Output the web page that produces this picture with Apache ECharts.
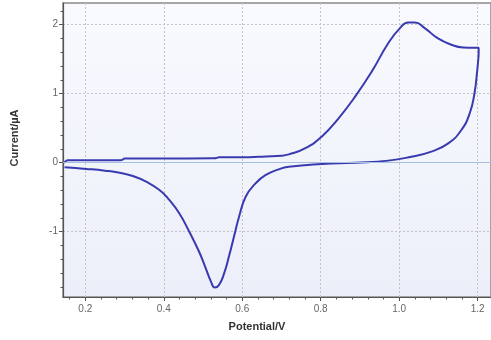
<!DOCTYPE html>
<html>
<head>
<meta charset="utf-8">
<script src="https://cdn.jsdelivr.net/npm/echarts@6/dist/echarts.min.js"></script>
<style>html,body{margin:0;padding:0;background:#fff}#c{width:491px;height:340px}</style>
</head>
<body>
<div id="c"></div>
<script>
// Potential (V) and current (µA)
const forwardV = [0.145, 0.150, 0.155, 0.20, 0.29, 0.295, 0.30, 0.40, 0.53, 0.535, 0.54, 0.617, 0.66, 0.70, 0.7185, 0.761, 0.803, 0.845, 0.888, 0.93, 0.972, 1.002, 1.023, 1.04, 1.065, 1.099, 1.133, 1.163, 1.19, 1.2025];
const forwardI = [0.0, 0.02, 0.035, 0.035, 0.035, 0.045, 0.06, 0.06, 0.065, 0.07, 0.078, 0.08, 0.09, 0.10, 0.12, 0.21, 0.38, 0.64, 0.96, 1.32, 1.73, 1.95, 2.03, 2.03, 1.95, 1.80, 1.71, 1.67, 1.665, 1.665];
const reverseV = [1.2025, 1.201, 1.199, 1.192, 1.18, 1.158, 1.125, 1.082, 1.031, 0.972, 0.888, 0.803, 0.7185, 0.693, 0.659, 0.634, 0.609, 0.592, 0.579, 0.566, 0.554, 0.541, 0.530, 0.52, 0.507, 0.49, 0.465, 0.439, 0.414, 0.389, 0.355, 0.321, 0.2875, 0.25, 0.202, 0.147];
const reverseI = [1.60, 1.46, 1.34, 1.01, 0.72, 0.47, 0.28, 0.16, 0.087, 0.03, 0.0, -0.02, -0.06, -0.096, -0.18, -0.30, -0.49, -0.78, -1.07, -1.36, -1.60, -1.77, -1.81, -1.72, -1.53, -1.29, -1.0, -0.73, -0.54, -0.396, -0.275, -0.193, -0.145, -0.115, -0.09, -0.067];

const xMajorTicks = [0.2, 0.4, 0.6, 0.8, 1.0, 1.2];
const xMinorTicks = [0.16, 0.24, 0.28, 0.32, 0.36, 0.44, 0.48, 0.52, 0.56, 0.64, 0.68, 0.72, 0.76, 0.84, 0.88, 0.92, 0.96, 1.04, 1.08, 1.12, 1.16];
const yMajorTicks = [-1, 0, 1, 2];
const yMinorTicks = [-1.8, -1.6, -1.4, -1.2, -0.8, -0.6, -0.4, -0.2, 0.2, 0.4, 0.6, 0.8, 1.2, 1.4, 1.6, 1.8, 2.2];

const xName = 'Potential/V';
const yName = 'Current/µA';

const data = [];
forwardV.forEach((v, i) => data.push([v, forwardI[i]]));
reverseV.forEach((v, i) => data.push([v, reverseI[i]]));

const XMIN = 0.1431, XMAX = 1.234, YMIN = -1.946, YMAX = 2.314;
const font = 'Liberation Sans, Arial, sans-serif';

const chart = echarts.init(document.getElementById('c'), null, {renderer: 'canvas'});
chart.setOption({
  animation: false,
  backgroundColor: '#ffffff',
  grid: {
    left: 63, top: 3, right: -2, bottom: 43,
    show: true,
    borderColor: '#8a8a8a', borderWidth: 1.5,
    backgroundColor: {type: 'linear', x: 0, y: 0, x2: 0, y2: 1,
      colorStops: [{offset: 0, color: '#f9faff'}, {offset: 1, color: '#eceff9'}]}
  },
  xAxis: [{
    type: 'value', min: XMIN, max: XMAX, position: 'bottom',
    axisLine: {show: true, onZero: false, lineStyle: {color: '#555', width: 1.2}},
    axisTick: {show: true, customValues: xMajorTicks, length: 4, lineStyle: {color: '#555'}},
    axisLabel: {customValues: xMajorTicks, formatter: v => v.toFixed(1), color: '#666', fontSize: 10, fontFamily: font, margin: 7},
    splitLine: {show: true, lineStyle: {color: '#c4c4c4', type: [2, 2], width: 1}}
  }, {
    type: 'value', min: XMIN, max: XMAX, position: 'bottom', gridIndex: 0,
    axisLine: {show: false, onZero: false},
    axisTick: {show: true, customValues: xMinorTicks, length: 2.5, lineStyle: {color: '#555'}},
    axisLabel: {show: false},
    splitLine: {show: false}
  }],
  yAxis: [{
    type: 'value', min: YMIN, max: YMAX, position: 'left',
    axisLine: {show: true, onZero: false, lineStyle: {color: '#555', width: 1.2}},
    axisTick: {show: true, customValues: yMajorTicks, length: 4, lineStyle: {color: '#555'}},
    axisLabel: {customValues: yMajorTicks, color: '#666', fontSize: 10, fontFamily: font, margin: 5},
    splitLine: {show: true, lineStyle: {color: '#c4c4c4', type: [2, 2], width: 1}}
  }, {
    type: 'value', min: YMIN, max: YMAX, position: 'left', gridIndex: 0,
    axisLine: {show: false, onZero: false},
    axisTick: {show: true, customValues: yMinorTicks, length: 2.5, lineStyle: {color: '#555'}},
    axisLabel: {show: false},
    splitLine: {show: false}
  }],
  graphic: [
    {type: 'text', x: 257, y: 327, style: {text: xName, fill: '#333', font: 'bold 11px ' + font, align: 'center', verticalAlign: 'middle'}},
    {type: 'text', x: 15, y: 138, rotation: Math.PI / 2, style: {text: yName, fill: '#333', font: 'bold 11px ' + font, align: 'center', verticalAlign: 'middle'}}
  ],
  series: [{
    type: 'line',
    xAxisIndex: 0, yAxisIndex: 0,
    data: data,
    showSymbol: false,
    smooth: 0.5,
    lineStyle: {color: '#3a3ab0', width: 2},
    markLine: {
      silent: true, symbol: 'none', label: {show: false},
      lineStyle: {color: '#a7c0e2', type: 'solid', width: 1.2},
      data: [{yAxis: 0}]
    },
    z: 3
  }]
});
</script>
</body>
</html>
